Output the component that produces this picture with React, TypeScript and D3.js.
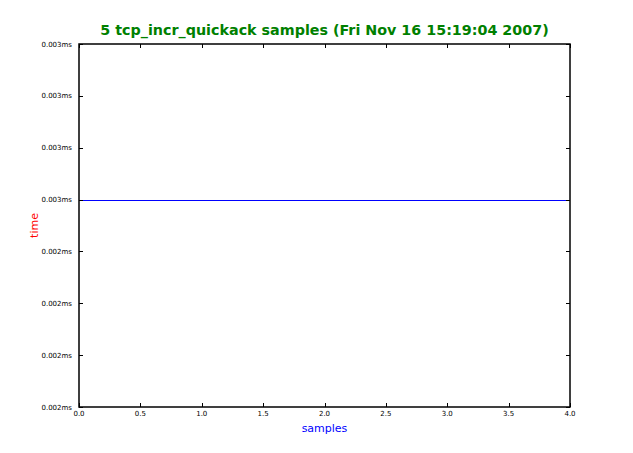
import React from "react";
import * as d3 from "d3";

const sampleIdx = [0, 1, 2, 3, 4];
const sampleTimes = [0.0025001, 0.0025001, 0.0025001, 0.0025001, 0.0025001];
const xTicks = [0, 0.5, 1, 1.5, 2, 2.5, 3, 3.5, 4];
const yTicks = [0.0024993, 0.0024995, 0.0024997, 0.0024999, 0.0025001, 0.0025003, 0.0025005, 0.0025007];
const titleText = "5 tcp_incr_quickack samples (Fri Nov 16 15:19:04 2007)";

export default function App() {
  const W = 633, H = 453;
  const L = 79, R = 570, T = 44, B = 407;
  const x = d3.scaleLinear().domain([0, 4]).range([L, R]);
  const y = d3.scaleLinear().domain([yTicks[0], yTicks[yTicks.length - 1]]).range([B, T]);
  const fmt = d3.format(".3f");
  const line = d3.line<number>().x((_, i) => x(sampleIdx[i])).y((d) => Math.round(y(d)) + 0.5);
  const font = "DejaVu Sans, sans-serif";
  return (
    <svg width={W} height={H} style={{ position: "absolute", left: 0, top: 0 }}>
      <rect x={0} y={0} width={W} height={H} fill="#fff" />
      <path d={line(sampleTimes) || ""} fill="none" stroke="#0000ff" strokeWidth={1.2} />
      {xTicks.map((t) => (
        <g key={"x" + t}>
          <line x1={Math.round(x(t)) + 0.5} x2={Math.round(x(t)) + 0.5} y1={B} y2={B - 4} stroke="#000" />
          <line x1={Math.round(x(t)) + 0.5} x2={Math.round(x(t)) + 0.5} y1={T} y2={T + 4} stroke="#000" />
          <text x={x(t)} y={416} fontSize={7} fontFamily={font} textAnchor="middle">{t.toFixed(1)}</text>
        </g>
      ))}
      {yTicks.map((t, i) => (
        <g key={"y" + i}>
          <line x1={L} x2={L + 4} y1={Math.round(y(t)) + 0.5} y2={Math.round(y(t)) + 0.5} stroke="#000" />
          <line x1={R} x2={R - 4} y1={Math.round(y(t)) + 0.5} y2={Math.round(y(t)) + 0.5} stroke="#000" />
          <text x={72} y={y(t) + 2.5} fontSize={7} fontFamily={font} textAnchor="end">{fmt(t) + "ms"}</text>
        </g>
      ))}
      <rect x={L} y={T} width={R - L} height={B - T} fill="none" stroke="#000" strokeWidth={1.5} />
      <text x={(L + R) / 2} y={35} fontSize={14.3} fontWeight="bold" fill="#008000" fontFamily={font} textAnchor="middle">{titleText}</text>
      <text x={(L + R) / 2} y={432} fontSize={11} fill="#0000ff" fontFamily={font} textAnchor="middle">samples</text>
      <text transform={`translate(38,${(T + B) / 2}) rotate(-90)`} fontSize={11} fill="#ff0000" fontFamily={font} textAnchor="middle">time</text>
    </svg>
  );
}
